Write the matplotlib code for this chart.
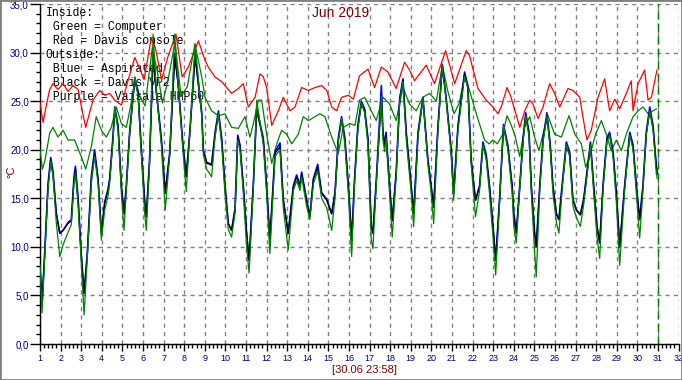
import matplotlib.pyplot as plt
from matplotlib.patches import Rectangle
from matplotlib.ticker import MultipleLocator, FuncFormatter

# Day of month (1.0 = 1 Jun 00:00) and temperatures in degC
red_t = [1.00, 1.15, 1.30, 1.47, 1.63, 1.87, 2.12, 2.36, 2.60, 2.85, 3.05, 3.22, 3.57, 3.90,
         4.14, 4.38, 4.63, 4.95, 5.27, 5.60, 5.85, 6.05, 6.40, 6.60, 6.90, 7.20, 7.60, 7.90,
         8.20, 8.69, 9.01, 9.17, 9.49, 9.82, 10.30, 10.63, 10.87, 11.11, 11.44, 11.68, 11.84,
         12.00, 12.25, 12.57, 12.81, 13.14, 13.38, 13.70, 14.03, 14.35, 14.67, 14.92, 15.16,
         15.40, 15.64, 15.97, 16.21, 16.51, 16.92, 17.24, 17.57, 17.89, 18.29, 18.70, 18.94,
         19.18, 19.75, 20.15, 20.69, 21.13, 21.69, 21.85, 22.26, 22.66, 22.99, 23.23, 23.39,
         23.67, 23.85, 24.29, 24.53, 24.77, 24.93, 25.18, 25.42, 25.74, 25.98, 26.23, 26.63,
         26.87, 27.20, 27.44, 27.55, 27.76, 28.09, 28.41, 28.65, 28.90, 29.14, 29.46, 29.70,
         29.79, 30.03, 30.35, 30.52, 30.68, 30.95]
red_v = [24.8, 22.8, 24.5, 26.2, 26.8, 26.2, 26.8, 26.0, 26.6, 26.2, 24.0, 22.3, 25.1, 26.1,
         25.6, 25.8, 25.1, 24.6, 27.1, 29.5, 28.3, 27.2, 31.5, 30.5, 27.2, 29.5, 31.9, 27.5,
         28.5, 31.2, 29.2, 28.5, 27.5, 27.0, 25.8, 26.3, 26.8, 24.4, 25.4, 27.8, 27.5,
         26.4, 22.5, 24.0, 25.4, 24.0, 24.4, 26.4, 26.1, 26.4, 26.6, 26.1, 24.4,
         24.0, 25.4, 25.6, 25.2, 27.6, 28.3, 26.4, 28.5, 28.0, 26.3, 29.0, 28.2,
         27.1, 28.7, 26.8, 30.2, 26.8, 30.2, 29.7, 26.3, 25.1, 24.4, 23.7, 24.4,
         26.4, 25.5, 22.3, 24.0, 25.1, 24.7, 23.2, 24.4, 26.8, 25.8, 24.4, 26.3,
         26.1, 25.4, 22.3, 21.0, 22.0, 25.4, 27.3, 24.0, 25.2, 24.2, 25.8, 27.1,
         24.0, 26.8, 28.2, 25.1, 25.4, 28.2]

gin_t = [1.00, 1.12, 1.25, 1.47, 1.63, 1.87, 2.12, 2.36, 2.68, 3.00, 3.22, 3.49, 3.73, 3.98,
         4.22, 4.46, 4.70, 4.95, 5.19, 5.40, 5.60, 5.85, 6.10, 6.45, 6.70, 6.95, 7.20, 7.55,
         7.85, 8.15, 8.52, 8.85, 9.01, 9.33, 9.66, 9.98, 10.30, 10.63, 10.95, 11.19, 11.36,
         11.60, 11.76, 12.00, 12.25, 12.49, 12.73, 12.97, 13.22, 13.54, 13.78, 14.03, 14.35,
         14.59, 14.83, 15.16, 15.48, 15.72, 16.05, 16.29, 16.51, 16.76, 17.08, 17.32, 17.65,
         17.97, 18.29, 18.62, 18.94, 19.26, 19.59, 19.91, 20.24, 20.53, 20.80, 21.10, 21.35,
         21.61, 21.85, 22.18, 22.58, 22.80, 22.99, 23.20, 23.47, 23.67, 23.88, 24.05, 24.29,
         24.53, 24.77, 25.01, 25.22, 25.42, 25.66, 25.98, 26.31, 26.68, 26.96, 27.28, 27.49,
         27.68, 27.97, 28.25, 28.49, 28.73, 28.98, 29.22, 29.46, 29.79, 30.03, 30.27, 30.52,
         30.92]
gin_v = [20.0, 18.0, 19.0, 21.7, 22.3, 21.3, 22.0, 21.0, 21.0, 19.3, 18.0, 20.3, 23.4, 22.0,
         21.3, 22.3, 24.4, 22.7, 22.3, 24.5, 27.0, 25.5, 24.5, 30.5, 28.0, 24.8, 27.0, 31.0,
         25.5, 26.5, 30.9, 27.5, 25.4, 24.0, 23.5, 23.7, 22.3, 22.2, 23.4, 21.3, 22.7,
         25.1, 25.1, 21.6, 18.6, 20.6, 22.0, 21.6, 20.6, 21.6, 23.4, 23.0, 23.4,
         23.7, 23.4, 21.3, 19.6, 22.3, 22.7, 22.5, 25.1, 25.4, 24.0, 23.0, 25.4,
         24.7, 23.0, 26.4, 24.7, 24.0, 25.4, 25.8, 25.0, 28.7, 26.0, 23.7, 24.8,
         27.5, 26.1, 23.7, 21.0, 20.6, 21.0, 20.6, 21.6, 23.5, 22.5, 21.5, 19.3,
         22.3, 23.4, 21.3, 19.9, 21.6, 23.5, 21.6, 21.3, 23.5, 21.6, 20.6, 18.2,
         19.3, 21.6, 23.0, 21.6, 19.9, 21.0, 19.9, 21.6, 23.4, 24.0, 24.4, 23.7,
         24.2]

# outside sensors share the same reading times
out_t = [1.00, 1.10, 1.23, 1.39, 1.52, 1.63, 1.79, 1.96, 2.12, 2.36, 2.52, 2.65, 2.72, 2.85,
         3.00, 3.14, 3.30, 3.49, 3.65, 3.82, 3.98, 4.14, 4.30, 4.38, 4.54, 4.63, 4.79, 4.95,
         5.08, 5.19, 5.35, 5.60, 5.76, 5.92, 6.08, 6.16, 6.32, 6.49, 6.65, 6.89, 7.08, 7.30,
         7.54, 7.70, 7.94, 8.10, 8.27, 8.53, 8.85, 8.93, 9.09, 9.33, 9.50, 9.66, 9.82, 9.98,
         10.14, 10.30, 10.47, 10.60, 10.71, 10.87, 11.03, 11.15, 11.36, 11.52, 11.84, 12.00,
         12.16, 12.41, 12.65, 12.81, 13.05, 13.30, 13.46, 13.62, 13.70, 13.94, 14.10, 14.27,
         14.48, 14.67, 14.92, 15.16, 15.32, 15.48, 15.64, 15.80, 15.97, 16.13, 16.27, 16.43,
         16.60, 16.76, 16.92, 17.08, 17.16, 17.32, 17.57, 17.65, 17.73, 17.80, 17.97, 18.10,
         18.29, 18.46, 18.62, 18.78, 19.02, 19.14, 19.35, 19.59, 19.83, 19.99, 20.11, 20.32,
         20.53, 20.72, 20.96, 21.08, 21.29, 21.61, 21.77, 21.93, 22.14, 22.34, 22.50, 22.66,
         22.82, 22.99, 23.12, 23.31, 23.50, 23.71, 23.92, 24.00, 24.12, 24.29, 24.45, 24.58,
         24.74, 24.85, 25.01, 25.09, 25.26, 25.42, 25.61, 25.77, 25.90, 26.07, 26.19, 26.36,
         26.55, 26.71, 26.87, 27.04, 27.23, 27.39, 27.55, 27.72, 27.88, 28.04, 28.17, 28.33,
         28.52, 28.65, 28.82, 28.98, 29.14, 29.38, 29.63, 29.79, 29.95, 30.11, 30.27, 30.43,
         30.60, 30.76, 30.92, 30.97]
black_v = [8.1, 4.2, 9.3, 16.2, 18.9, 17.5, 13.4, 11.4, 11.7, 12.4, 12.7, 16.9, 17.9, 14.8,
           9.3, 5.2, 9.3, 16.9, 19.6, 16.9, 11.4, 14.5, 15.8, 16.9, 21.0, 24.1, 22.3, 16.2,
           13.4, 16.2, 21.6, 27.1, 25.8, 19.9, 14.8, 13.1, 18.9, 29.5, 25.8, 21.0, 15.5, 19.6,
           29.5, 26.8, 20.3, 17.2, 21.6, 29.5, 23.7, 19.9, 18.6, 18.4, 21.6, 23.7, 21.0, 16.2,
           12.4, 11.7, 13.8, 21.3, 20.3, 16.2, 11.4, 8.6, 16.5, 24.0, 21.0, 16.2,
           10.7, 19.6, 20.3, 14.8, 11.4, 16.2, 17.2, 16.2, 17.5, 14.8, 13.1, 16.9,
           18.2, 15.5, 14.8, 13.4, 15.5, 21.0, 23.0, 21.0, 16.2, 10.7, 16.9, 22.3,
           24.7, 24.0, 21.0, 12.1, 11.4, 16.5, 25.1, 21.6, 20.3, 21.6, 16.2, 12.7,
           17.5, 25.1, 27.1, 21.6, 16.2, 13.4, 21.6, 25.2, 18.9, 16.2, 14.1, 22.3,
           28.5, 25.1, 19.9, 15.5, 22.3, 27.8, 26.4, 18.9, 14.8, 16.2, 20.6, 19.3,
           16.2, 12.1, 8.6, 14.8, 22.3, 20.3, 16.2, 13.4, 11.4, 16.2, 21.0, 23.5,
           21.6, 16.2, 11.4, 10.0, 16.2, 21.0, 23.5, 20.3, 16.2, 13.4, 12.8, 16.5,
           20.3, 19.6, 14.8, 13.8, 13.3, 14.8, 17.5, 20.6, 16.2, 12.1, 10.4, 16.2,
           21.0, 21.6, 19.6, 15.5, 10.0, 16.2, 21.6, 20.3, 16.2, 12.8, 16.2, 21.6,
           24.0, 22.3, 18.2, 17.5]
blue_v = [8.1, 4.2, 9.5, 16.5, 19.2, 17.8, 13.5, 11.4, 11.7, 12.5, 12.8, 17.2, 18.3, 15.0,
          9.3, 5.2, 9.5, 17.2, 20.0, 17.0, 11.4, 14.6, 15.9, 17.0, 21.3, 24.4, 22.5, 16.3,
          13.4, 16.3, 21.8, 27.4, 26.0, 20.0, 14.8, 13.1, 19.0, 29.9, 26.0, 21.2, 15.5, 19.8,
          29.9, 27.0, 20.5, 17.3, 21.8, 29.9, 23.9, 20.0, 18.7, 18.5, 21.8, 24.0, 21.2, 16.3,
          12.4, 11.7, 14.0, 21.5, 20.5, 16.3, 11.4, 8.6, 16.7, 24.3, 21.2, 16.3,
          10.7, 19.8, 20.7, 14.9, 11.4, 16.3, 17.4, 16.3, 17.7, 14.9, 13.1, 17.0,
          18.5, 15.6, 14.9, 13.4, 15.6, 21.2, 23.4, 21.2, 16.3, 10.7, 17.0, 22.5,
          25.0, 24.2, 21.2, 12.1, 11.4, 16.7, 26.6, 21.8, 20.5, 21.8, 16.3, 12.7,
          17.7, 25.3, 27.3, 21.8, 16.3, 13.4, 21.8, 25.4, 19.0, 16.3, 14.1, 22.5,
          28.8, 25.3, 20.0, 15.5, 22.5, 28.0, 26.6, 19.0, 14.8, 16.3, 20.8, 19.5,
          16.3, 12.1, 8.6, 15.0, 22.6, 20.5, 16.3, 13.4, 11.4, 16.3, 21.2, 23.8,
          21.8, 16.3, 11.4, 10.0, 16.3, 21.2, 23.8, 20.5, 16.3, 13.4, 12.8, 16.7,
          20.8, 19.8, 14.9, 13.8, 13.3, 14.9, 17.7, 20.8, 16.3, 12.1, 10.4, 16.3,
          21.2, 21.8, 19.8, 15.5, 10.0, 16.3, 21.8, 20.5, 16.3, 12.8, 16.3, 21.8,
          24.4, 22.5, 18.3, 17.6]
gout_v = [8.1, 3.2, 9.0, 16.0, 18.8, 17.3, 12.5, 9.0, 10.2, 11.5, 12.3, 16.5, 17.6, 14.3,
          8.5, 3.0, 9.0, 16.5, 19.3, 16.5, 10.7, 13.8, 15.2, 16.5, 20.8, 24.3, 22.0, 15.5,
          11.7, 15.8, 21.5, 27.5, 25.5, 19.5, 13.5, 11.7, 18.5, 31.9, 26.0, 20.5, 13.8, 19.5,
          31.9, 27.0, 19.8, 15.7, 21.5, 30.9, 23.5, 19.5, 18.0, 17.2, 21.3, 23.7, 20.5, 15.5,
          11.8, 11.0, 13.5, 21.0, 20.0, 15.5, 10.0, 7.3, 16.2, 25.1, 20.5, 15.5,
          9.3, 19.3, 20.0, 14.0, 9.7, 15.8, 16.8, 15.8, 17.2, 14.2, 12.8, 16.5,
          17.8, 15.0, 14.0, 11.7, 15.0, 20.8, 23.2, 20.5, 15.5, 9.0, 16.5, 22.0,
          24.8, 23.8, 20.5, 10.8, 9.8, 16.2, 25.5, 21.0, 19.8, 21.2, 15.5, 11.0,
          17.2, 25.0, 27.0, 21.0, 15.5, 12.1, 21.3, 25.3, 18.5, 15.5, 12.4, 22.0,
          28.7, 25.0, 19.5, 14.8, 22.0, 27.6, 26.3, 18.5, 13.1, 15.8, 20.5, 19.0,
          15.5, 11.0, 7.1, 14.5, 22.5, 20.0, 15.5, 12.1, 10.4, 16.0, 20.8, 23.5,
          21.3, 15.5, 9.5, 6.9, 15.8, 20.8, 23.5, 20.0, 15.5, 12.5, 11.4, 16.2,
          20.5, 19.3, 14.2, 13.0, 12.1, 14.3, 17.2, 20.5, 15.5, 11.0, 8.8, 15.8,
          20.8, 21.5, 19.2, 14.5, 8.1, 15.8, 21.5, 20.0, 15.5, 10.9, 15.8, 21.5,
          24.0, 22.0, 17.5, 17.0]

legend_lines = ["Inside:", " Green = Computer", " Red = Davis console", "Outside:",
                " Blue = Aspirated", " Black = Davis VP2", " Purple = Vaisala HMP60"]

W, H = 682, 380
fig = plt.figure(figsize=(W / 100, H / 100), dpi=100, facecolor='white')
# axes box in pixels: x 40..678.6, y 4..344
ax = fig.add_axes([40 / W, 36 / H, 638.6 / W, 340 / H])
ax.set_xlim(1, 32)
ax.set_ylim(0, 35)

lw = 0.9
ax.plot(red_t, red_v, color='#ff0000', lw=lw, zorder=3)
ax.plot(gin_t, gin_v, color='#008000', lw=lw, zorder=3)
ax.plot(out_t, blue_v, color='#0000ff', lw=1.2, zorder=3)
ax.plot(out_t, black_v, color='#000000', lw=lw, zorder=3)
ax.plot(out_t, gout_v, color='#008000', lw=lw, zorder=3)
ax.axvline(31, color='#008000', lw=1, ls=(0, (6, 3)), zorder=3)

# axes look
for s in ['top', 'right']:
    ax.spines[s].set_visible(False)
for s in ['left', 'bottom']:
    ax.spines[s].set_linewidth(1)
ax.xaxis.set_major_locator(MultipleLocator(1))
ax.xaxis.set_minor_locator(MultipleLocator(0.2))
ax.yaxis.set_major_locator(MultipleLocator(5))
ax.yaxis.set_minor_locator(MultipleLocator(1))
ax.yaxis.set_major_formatter(FuncFormatter(lambda v, p: f"{v:.1f}".replace('.', ',')))
ax.tick_params(axis='y', which='major', length=7, width=1, pad=1,
               labelsize=7, labelcolor='#000080')
ax.tick_params(axis='y', which='minor', length=3, width=1)
ax.tick_params(axis='x', which='major', length=5, width=1, pad=2,
               labelsize=6.5, labelcolor='#000080')
ax.tick_params(axis='x', which='minor', length=3, width=1)
for lab in ax.get_xticklabels() + ax.get_yticklabels():
    lab.set_fontfamily('Liberation Sans')

ax.grid(which='major', color='#808080', ls=(0, (3, 3)), lw=1)
ax.set_axisbelow(True)
ax.yaxis.get_gridlines()[-1].set_visible(False)
ax.xaxis.get_gridlines()[0].set_visible(False)

# legend text sits under the curves
for i, line in enumerate(legend_lines):
    py = 13.3 + i * 13.9
    ax.text((45.5 - 40) / 638.6, (344 - py) / 340, line, transform=ax.transAxes,
            family='Liberation Mono', fontsize=8.3, color='black', va='center',
            ha='left', zorder=1)

fig.text(341 / W, 1 - 13 / H, 'Jun 2019', ha='center', va='center',
         color='#800000', fontsize=10, family='Liberation Sans')
fig.text(365 / W, 1 - 370 / H, '[30.06 23:58]', ha='center', va='center',
         color='#800000', fontsize=8, family='Liberation Sans')
fig.text(11 / W, 1 - 172 / H, '°C', ha='center', va='center', rotation=90,
         color='#800000', fontsize=8, family='Liberation Sans')

fig.patches.append(Rectangle((0, 0), 1, 1, transform=fig.transFigure, fill=False,
                             edgecolor='#808080', lw=2))

fig.savefig('out.png', dpi=100, facecolor='white')
